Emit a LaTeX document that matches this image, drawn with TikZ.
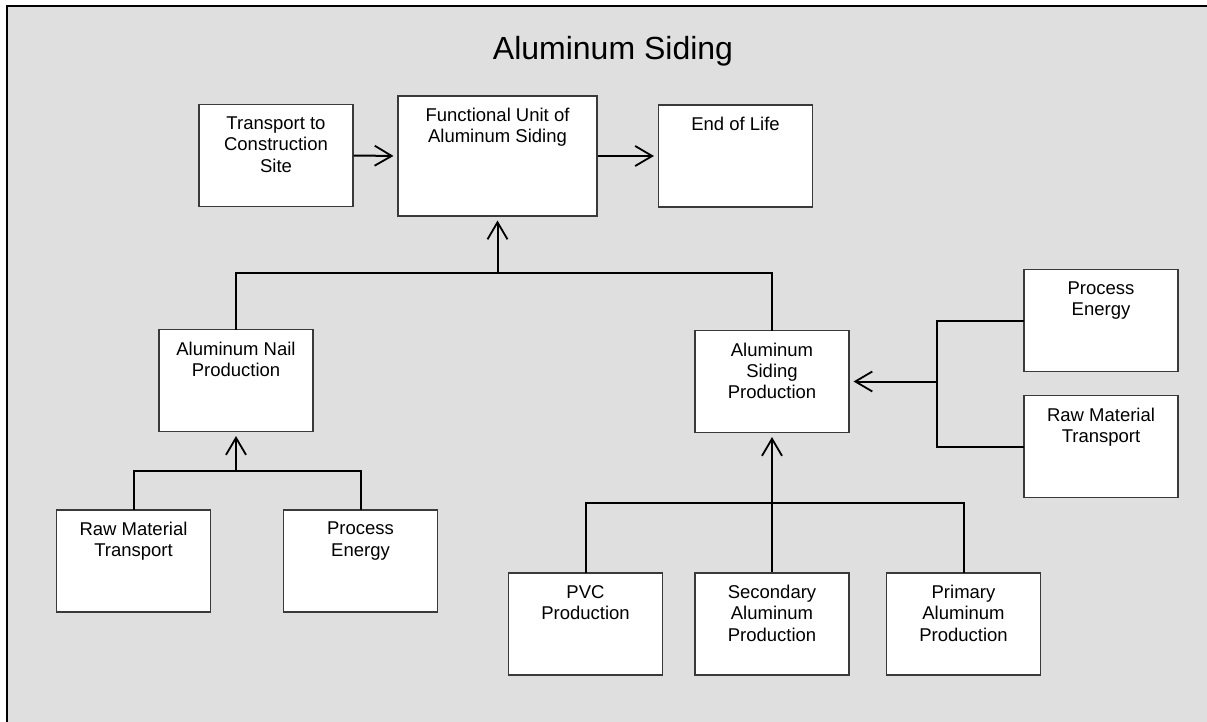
\documentclass[tikz,border=0pt]{standalone}
\usepackage{fontspec}
\setmainfont{Liberation Sans}
\usetikzlibrary{arrows.meta}
\definecolor{bgray}{HTML}{DFDFDF}
\definecolor{edge}{HTML}{3A3A3A}
\tikzset{
  box/.style={draw=edge, line width=1.1pt, fill=white, minimum width=154pt, minimum height=102pt, inner sep=0pt},
  lab/.style={anchor=north, yshift=-12.6pt, inner sep=0pt, align=center, font=\fontsize{18.5}{21.3}\selectfont},
  wire/.style={line width=2pt, line cap=rect},
  arr/.style={line width=2pt, -{Straight Barb[length=17pt, width=20pt, line width=1.8pt]}, shorten >=4pt}
}
\begin{document}
\begin{tikzpicture}[x=1pt, y=-1pt]
\useasboundingbox (0,0) rectangle (1207,722);
\fill[white] (0,0) rectangle (1207,722);
\fill[bgray] (7,6) rectangle (1207,722);
\draw[line width=2.5pt] (7,722) -- (7,6) -- (1207,6);

\node[anchor=base, font=\fontsize{32}{38}\selectfont] (title) at (613,60) {Aluminum Siding};

\node[box, label={[lab]north:{Transport to\\Construction\\Site}}] (trans) at (276,155.5) {};
\node[box, minimum width=199pt, minimum height=120pt, label={[lab]north:{Functional Unit of\\Aluminum Siding}}] (fu) at (497.5,156) {};
\node[box, label={[lab]north:{End of Life}}] (eol) at (735.5,156) {};

\node[box, label={[lab]north:{Aluminum Nail\\Production}}] (nail) at (236,380.5) {};
\node[box, label={[lab]north:{Aluminum\\Siding\\Production}}] (siding) at (772,381.5) {};

\node[box, label={[lab]north:{Process\\Energy}}] (per) at (1101,320.5) {};
\node[box, label={[lab]north:{Raw Material\\Transport}}] (rmr) at (1101,446.5) {};

\node[box, label={[lab]north:{Raw Material\\Transport}}] (rml) at (133.5,561) {};
\node[box, label={[lab]north:{Process\\Energy}}] (pel) at (360.5,561) {};

\node[box, label={[lab]north:{PVC\\Production}}] (pvc) at (585.5,624) {};
\node[box, label={[lab]north:{Secondary\\Aluminum\\Production}}] (sec) at (772,624) {};
\node[box, label={[lab]north:{Primary\\Aluminum\\Production}}] (pri) at (963.5,624) {};

\coordinate (j1) at (497.5,273);
\coordinate (j2) at (236,471);
\coordinate (j3) at (937,381.5);
\coordinate (j4) at (772,503);

\draw[arr] (trans.east) -- (fu.west);
\draw[arr] (fu.east) -- (eol.west);

\draw[wire] (nail.north) |- (j1) -| (siding.north);
\draw[arr] (j1) -- (fu.south);

\draw[wire] (rml.north) |- (j2) -| (pel.north);
\draw[arr] (j2) -- (nail.south);

\draw[wire] (per.west) -| (j3) |- (rmr.west);
\draw[arr] (j3) -- (siding.east);

\draw[wire] (pvc.north) |- (j4) -| (pri.north);
\draw[arr] (sec.north) -- (siding.south);
\end{tikzpicture}
\end{document}
